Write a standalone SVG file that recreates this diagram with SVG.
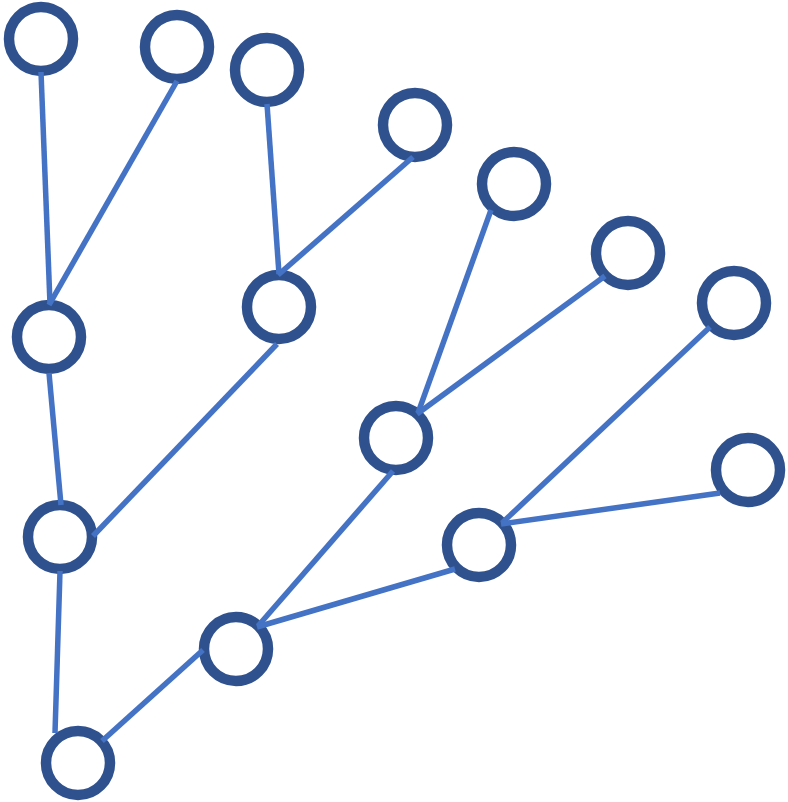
<svg xmlns="http://www.w3.org/2000/svg" width="788" height="802" viewBox="0 0 788 802">
<style>
.n{fill:#FFFFFF;stroke:#2F528F;stroke-width:10.5}
.e{stroke:#4472C4;stroke-width:5.5;fill:none;stroke-linecap:butt}
</style>
<rect width="788" height="802" fill="#FFFFFF"/>
<g id="nodes">
<g id="n1"><circle class="n" cx="41" cy="39" r="32"/></g>
<g id="n2"><circle class="n" cx="177" cy="47" r="32"/></g>
<g id="n3"><circle class="n" cx="267" cy="70" r="32"/></g>
<g id="n4"><circle class="n" cx="415" cy="125" r="32"/></g>
<g id="n5"><circle class="n" cx="514" cy="184" r="32"/></g>
<g id="n6"><circle class="n" cx="628" cy="253" r="32"/></g>
<g id="n7"><circle class="n" cx="734" cy="303" r="32"/></g>
<g id="n8"><circle class="n" cx="748" cy="470" r="32"/></g>
<g id="n9"><circle class="n" cx="49" cy="337" r="32"/></g>
<g id="n10"><circle class="n" cx="279" cy="307" r="32"/></g>
<g id="n11"><circle class="n" cx="396" cy="438" r="32"/></g>
<g id="n12"><circle class="n" cx="479" cy="545" r="32"/></g>
<g id="n13"><circle class="n" cx="60" cy="537" r="32"/></g>
<g id="n14"><circle class="n" cx="236" cy="649" r="32"/></g>
<g id="n15"><circle class="n" cx="78" cy="763" r="32"/></g>
</g>
<g id="connectors">
<line class="e" x1="41" y1="72" x2="50" y2="304"/>
<line class="e" x1="177" y1="81" x2="49" y2="305"/>
<line class="e" x1="267" y1="104" x2="279" y2="274"/>
<line class="e" x1="413" y1="157" x2="278" y2="275"/>
<line class="e" x1="49" y1="373" x2="61" y2="505"/>
<line class="e" x1="277" y1="344" x2="93" y2="536"/>
<line class="e" x1="60" y1="571" x2="55" y2="733"/>
<line class="e" x1="102" y1="741" x2="203" y2="650"/>
<line class="e" x1="258" y1="626" x2="393" y2="471"/>
<line class="e" x1="257" y1="627" x2="455" y2="569"/>
<line class="e" x1="418" y1="413" x2="491" y2="210"/>
<line class="e" x1="417" y1="414" x2="605" y2="276"/>
<line class="e" x1="502" y1="523" x2="710" y2="327"/>
<line class="e" x1="501" y1="524" x2="720" y2="493"/>
</g>
</svg>
